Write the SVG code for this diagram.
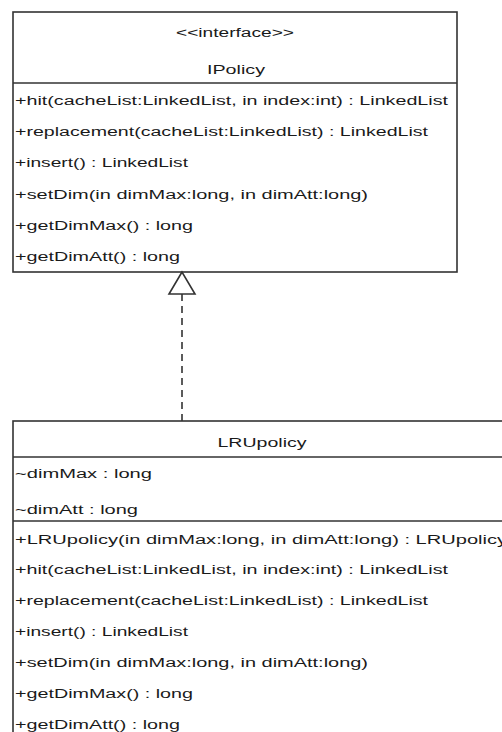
<svg xmlns="http://www.w3.org/2000/svg" width="502" height="732" viewBox="0 0 502 732">
<style>
.box{fill:#fff;stroke:#333;stroke-width:1.6}
.sep{stroke:#333;stroke-width:1.6}
text{font-family:"Liberation Sans","DejaVu Sans",Arial,sans-serif;font-size:12.5px;fill:#1a1a1a}
.c{text-anchor:middle}
.conn{stroke:#333;stroke-width:1.6;fill:none}
</style>
<rect width="502" height="732" fill="#fff"/>
<g id="IPolicy">
<rect class="box" x="13" y="12" width="444" height="260"/>
<line class="sep" x1="13" y1="83" x2="457" y2="83"/>
<text class="c" x="235" y="37" textLength="118" lengthAdjust="spacingAndGlyphs">&lt;&lt;interface&gt;&gt;</text>
<text class="c" x="236" y="74" textLength="58" lengthAdjust="spacingAndGlyphs">IPolicy</text>
<text x="15" y="105" textLength="433" lengthAdjust="spacingAndGlyphs">+hit(cacheList:LinkedList, in index:int) : LinkedList</text>
<text x="15" y="136" textLength="413" lengthAdjust="spacingAndGlyphs">+replacement(cacheList:LinkedList) : LinkedList</text>
<text x="15" y="167" textLength="173" lengthAdjust="spacingAndGlyphs">+insert() : LinkedList</text>
<text x="15" y="199" textLength="353" lengthAdjust="spacingAndGlyphs">+setDim(in dimMax:long, in dimAtt:long)</text>
<text x="15" y="230" textLength="178" lengthAdjust="spacingAndGlyphs">+getDimMax() : long</text>
<text x="15" y="261" textLength="165" lengthAdjust="spacingAndGlyphs">+getDimAtt() : long</text>
</g>
<g id="LRUpolicy">
<rect class="box" x="13" y="421" width="520" height="340"/>
<line class="sep" x1="13" y1="457" x2="510" y2="457"/>
<line class="sep" x1="13" y1="521" x2="510" y2="521"/>
<text class="c" x="262" y="447" textLength="89" lengthAdjust="spacingAndGlyphs">LRUpolicy</text>
<text x="15" y="478" textLength="137" lengthAdjust="spacingAndGlyphs">~dimMax : long</text>
<text x="15" y="514" textLength="123" lengthAdjust="spacingAndGlyphs">~dimAtt : long</text>
<text x="15" y="544" textLength="492" lengthAdjust="spacingAndGlyphs">+LRUpolicy(in dimMax:long, in dimAtt:long) : LRUpolicy</text>
<text x="15" y="574" textLength="433" lengthAdjust="spacingAndGlyphs">+hit(cacheList:LinkedList, in index:int) : LinkedList</text>
<text x="15" y="605" textLength="413" lengthAdjust="spacingAndGlyphs">+replacement(cacheList:LinkedList) : LinkedList</text>
<text x="15" y="636" textLength="173" lengthAdjust="spacingAndGlyphs">+insert() : LinkedList</text>
<text x="15" y="667" textLength="353" lengthAdjust="spacingAndGlyphs">+setDim(in dimMax:long, in dimAtt:long)</text>
<text x="15" y="698" textLength="178" lengthAdjust="spacingAndGlyphs">+getDimMax() : long</text>
<text x="15" y="729" textLength="165" lengthAdjust="spacingAndGlyphs">+getDimAtt() : long</text>
</g>
<g id="connectors">
<line class="conn" x1="182" y1="294" x2="182" y2="421" stroke-dasharray="7,5"/>
<polygon class="conn" points="182,272 169,294 195,294" fill="#fff"/>
</g>
</svg>
